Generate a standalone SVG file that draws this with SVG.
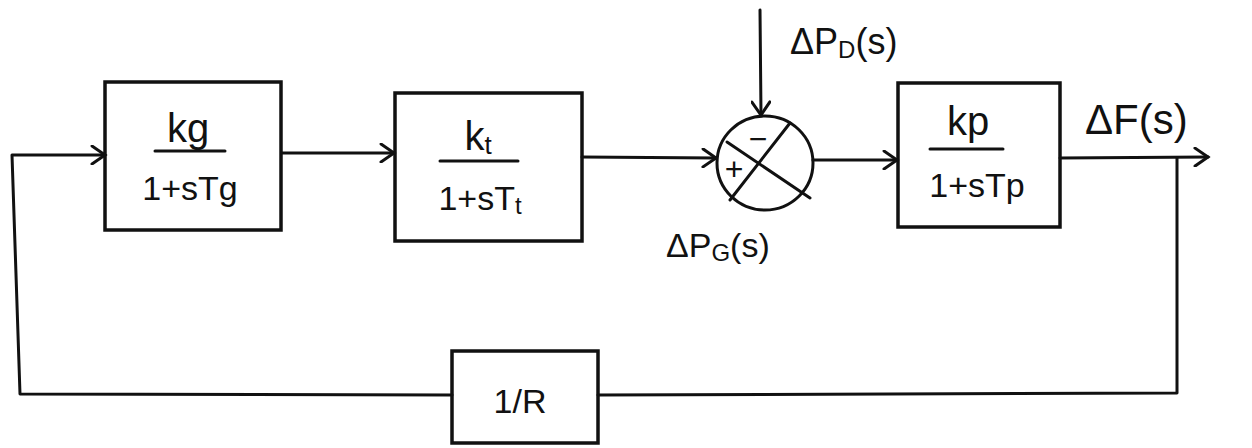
<svg xmlns="http://www.w3.org/2000/svg" width="1252" height="448" viewBox="0 0 1252 448">
<defs>
<style>
.ln{fill:none;stroke:#111;stroke-width:3;stroke-linecap:round;stroke-linejoin:round}
.bx{fill:none;stroke:#111;stroke-width:3.5}
.t{font-family:"Liberation Sans",Arial,sans-serif;fill:#111}
.f{font-size:34px;text-anchor:middle}
.n{font-size:40px;text-anchor:middle}
.lb{font-size:36px}
</style>
<marker id="ah" markerWidth="20" markerHeight="20" refX="17" refY="10" orient="auto" markerUnits="userSpaceOnUse">
<path d="M4,1 L17,10 L4,19" fill="none" stroke="#111" stroke-width="3" stroke-linecap="round"/>
</marker>
</defs>
<rect width="1252" height="448" fill="#fff"/>
<g id="connectors">
<path class="ln" d="M282,153 L394,153" marker-end="url(#ah)"/>
<path class="ln" d="M582,157 L716,158" marker-end="url(#ah)"/>
<path class="ln" d="M760,10 L761,115" marker-end="url(#ah)"/>
<path class="ln" d="M813,160 L897,160" marker-end="url(#ah)"/>
<path class="ln" d="M1060,158 L1208,157" marker-end="url(#ah)"/>
<path class="ln" d="M1177,158 L1177,393 L598,395"/>
<path class="ln" d="M452,395 L20,394 L12,155 L105,155" marker-end="url(#ah)"/>
</g>
<g id="gov">
<rect class="bx" x="105" y="82" width="176" height="148"/>
<text class="t n" x="188" y="142">kg</text>
<line class="ln" x1="155" y1="151" x2="225" y2="151"/>
<text class="t f" x="190" y="200">1+sTg</text>
</g>
<g id="turbine">
<rect class="bx" x="395" y="93" width="187" height="148"/>
<text class="t n" x="478" y="150">k<tspan font-size="26" dy="4">t</tspan></text>
<line class="ln" x1="440" y1="161" x2="518" y2="161"/>
<text class="t f" x="480" y="210">1+sT<tspan font-size="24" dy="4">t</tspan></text>
</g>
<g id="sum">
<ellipse cx="765" cy="163" rx="48" ry="47" class="ln"/>
<line class="ln" x1="727" y1="142" x2="810" y2="198"/>
<line class="ln" x1="790" y1="123" x2="730" y2="200"/>
<text class="t" x="758" y="150" font-size="32" text-anchor="middle">−</text>
<text class="t" x="734" y="180" font-size="32" text-anchor="middle">+</text>
</g>
<g id="power">
<rect class="bx" x="898" y="83" width="162" height="144"/>
<text class="t n" x="968" y="135">kp</text>
<line class="ln" x1="930" y1="149" x2="1003" y2="149"/>
<text class="t f" x="977" y="197">1+sTp</text>
</g>
<g id="droop">
<rect class="bx" x="452" y="351" width="146" height="92"/>
<text class="t f" x="520" y="413">1/R</text>
</g>
<g id="labels">
<text class="t lb" x="790" y="54">ΔP<tspan font-size="24" dy="4">D</tspan><tspan dy="-4">(s)</tspan></text>
<text class="t" x="1085" y="134" font-size="42">ΔF(s)</text>
<text class="t" x="666" y="257" font-size="34">ΔP<tspan font-size="24" dy="4">G</tspan><tspan dy="-4">(s)</tspan></text>
</g>
</svg>
